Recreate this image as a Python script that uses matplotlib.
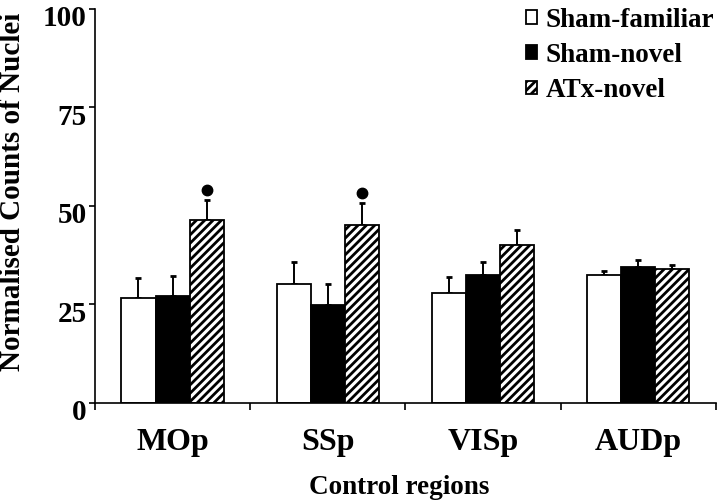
import numpy as np
import matplotlib
matplotlib.use('Agg')
import matplotlib.pyplot as plt
import matplotlib.transforms as mtransforms

#data
regions = ['MOp', 'SSp', 'VISp', 'AUDp']
groups = ['Sham-familiar', 'Sham-novel', 'ATx-novel']
sham_familiar = [26.7, 30.2, 27.9, 32.6]
sham_familiar_err = [5.1, 5.5, 4.1, 1.0]
sham_novel = [27.2, 24.8, 32.4, 34.4]
sham_novel_err = [5.1, 5.3, 3.4, 1.8]
atx_novel = [46.5, 45.2, 40.2, 33.9]
atx_novel_err = [5.0, 5.6, 3.7, 1.0]
#regions marked with a dot above the ATx bar
marked = ['MOp', 'SSp']
yticks = [0, 25, 50, 75, 100]

plt.rcParams['font.family'] = ['Liberation Serif', 'DejaVu Serif']
plt.rcParams['font.weight'] = 'bold'
plt.rcParams['hatch.linewidth'] = 2.0

fig = plt.figure(figsize=(7.2, 5.04), dpi=100)
ax = fig.add_axes([0.132, 0.2004, 0.862, 0.782])

x = np.arange(len(regions))
w = 0.22
series = [sham_familiar, sham_novel, atx_novel]
errs = [sham_familiar_err, sham_novel_err, atx_novel_err]
faces = ['white', 'black', 'white']
hatches = [None, None, '////']

handles = []
for i in range(3):
    pos = x + (i - 1) * w
    b = ax.bar(pos, series[i], w, color=faces[i], edgecolor='black',
               linewidth=1.3, hatch=hatches[i], label=groups[i], zorder=2)
    handles.append(b)
    ax.errorbar(pos, series[i], yerr=[np.zeros(len(regions)), errs[i]],
                fmt='none', ecolor='black', elinewidth=1.4, capsize=2.5,
                capthick=2.0, zorder=1)

#dots above the significant bars
for r in marked:
    k = regions.index(r)
    ax.plot(x[k] + w, atx_novel[k] + atx_novel_err[k] + 2.5, 'o',
            color='black', markersize=7.5)

ax.set_xlim(-0.5, 3.5)
ax.set_ylim(0, 100)
ax.set_yticks(yticks)
ax.set_yticklabels([str(t) for t in yticks], fontsize=21)
ax.set_xticks(x)
ax.set_xticklabels(regions, fontsize=23)
ax.set_xticks(np.arange(-0.5, 4, 1), minor=True)
ax.tick_params(axis='x', which='major', length=0, pad=18)
ax.tick_params(axis='x', which='minor', length=5, width=1.2, direction='out')
ax.tick_params(axis='y', length=4, width=1.2, pad=2)

#y labels sit a little below their ticks in the reference
shift = mtransforms.ScaledTranslation(0, -5 / 72, fig.dpi_scale_trans)
for lab in ax.get_yticklabels():
    lab.set_transform(lab.get_transform() + shift)

ax.spines['top'].set_visible(False)
ax.spines['right'].set_visible(False)
ax.spines['left'].set_linewidth(1.2)
ax.spines['bottom'].set_linewidth(1.2)

fig.text(13 / 720, 1 - 192 / 504, 'Normalised Counts of Nuclei', rotation=90,
         ha='center', va='center', fontsize=21)
fig.text(0.555, 1 - 488 / 504, 'Control regions', ha='center', va='center',
         fontsize=19.5)

ax.legend(handles=handles, loc='upper left', bbox_to_anchor=(0.731, 0.985),
          bbox_transform=fig.transFigure, frameon=False, fontsize=19.5,
          handlelength=0.4, handleheight=0.4, handletextpad=0.3,
          labelspacing=0.38, borderpad=0, borderaxespad=0)

fig.savefig('out.png', dpi=100)
